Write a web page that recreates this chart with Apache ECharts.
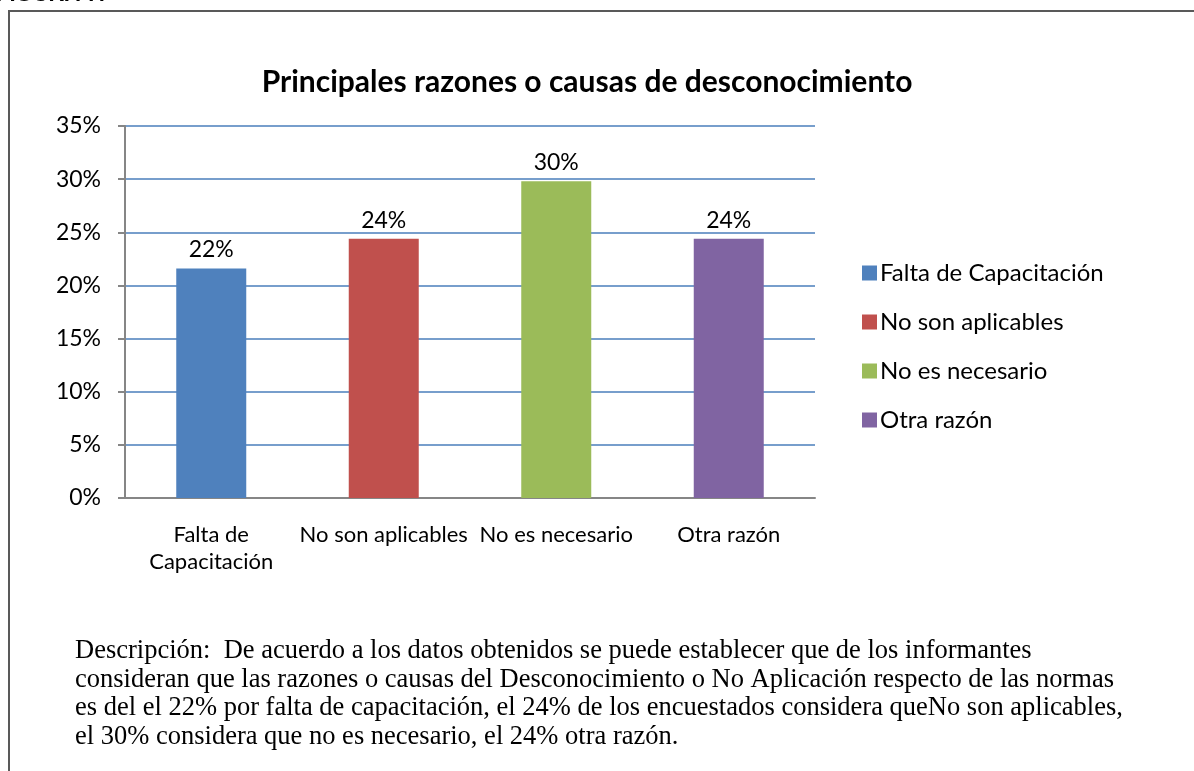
<!DOCTYPE html>
<html>
<head>
<meta charset="utf-8">
<script src="https://cdn.jsdelivr.net/npm/echarts@6/dist/echarts.min.js"></script>
<style>
  html, body { margin: 0; padding: 0; background: #fff; }
  #chart { width: 1194px; height: 771px; }
</style>
</head>
<body>
<div id="chart"></div>
<script>
// datos del gráfico
const categories = ["Falta de Capacitación", "No son aplicables", "No es necesario", "Otra razón"];
const axisNames = ["Falta de\nCapacitación", "No son aplicables", "No es necesario", "Otra razón"];
const values = [0.216, 0.244, 0.298, 0.244];
const colors = ["#4f81bd", "#c0504d", "#9bbb59", "#8064a2"];
const yTicks = { min: 0, max: 0.35, interval: 0.05 };

const titleText = "Principales razones o causas de desconocimiento";
const descLines = [
  "Descripción:  De acuerdo a los datos obtenidos se puede establecer que de los informantes",
  "consideran que las razones o causas del Desconocimiento o No Aplicación respecto de las normas",
  "es del el 22% por falta de capacitación, el 24% de los encuestados considera queNo son aplicables,",
  "el 30% considera que no es necesario, el 24% otra razón.",
];

const FONT = "Lato, 'Open Sans', sans-serif";
const pct = (v) => Math.round(v * 100) + "%";

let chartEL = document.getElementById("chart");
let myChart = echarts.init(chartEL, null, { renderer: "canvas" });

// una serie por categoría, superpuestas en la misma posición
let series = categories.map((name, i) => ({
  name: name,
  type: "bar",
  barWidth: 70,
  barGap: "-100%",
  itemStyle: { color: colors[i] },
  label: {
    show: true,
    position: "top",
    distance: 7,
    fontFamily: FONT,
    fontSize: 23,
    color: "#000",
    formatter: (p) => pct(p.value),
  },
  data: values.map((v, j) => (j === i ? v : "-")),
}));

let option = {
  animation: false,
  backgroundColor: "#fff",
  title: {
    text: titleText,
    left: 582,
    top: 62,
    textAlign: "center",
    textStyle: { fontFamily: FONT, fontWeight: "bold", fontSize: 30, color: "#000" },
  },
  legend: {
    orient: "vertical",
    left: 862,
    top: 261,
    padding: 0,
    icon: "rect",
    itemWidth: 15,
    itemHeight: 15,
    itemGap: 25,
    data: categories,
    textStyle: { fontFamily: FONT, fontSize: 24, color: "#000", padding: [0, 0, 0, -2] },
  },
  grid: { left: 125, right: 379, top: 126, bottom: 273, containLabel: false },
  xAxis: {
    type: "category",
    data: axisNames,
    axisLine: { lineStyle: { color: "#868686", width: 2 } },
    axisTick: { show: false },
    axisLabel: {
      interval: 0,
      margin: 23,
      fontFamily: FONT,
      fontSize: 22,
      lineHeight: 27,
      color: "#000",
    },
  },
  yAxis: {
    type: "value",
    min: yTicks.min,
    max: yTicks.max,
    interval: yTicks.interval,
    axisLine: { show: true, lineStyle: { color: "#868686", width: 2 } },
    axisTick: { show: true, length: 7, lineStyle: { color: "#868686", width: 2 } },
    axisLabel: {
      margin: 24,
      fontFamily: FONT,
      fontSize: 23,
      color: "#000",
      formatter: (v) => pct(v),
    },
    splitLine: { lineStyle: { color: "#4a7ebb", width: 1.5 } },
  },
  graphic: [
    // marco de la figura
    { type: "line", shape: { x1: 9, y1: 11, x2: 1194, y2: 11 }, style: { stroke: "#595959", lineWidth: 2 } },
    { type: "line", shape: { x1: 9, y1: 10, x2: 9, y2: 771 }, style: { stroke: "#595959", lineWidth: 2 } },
    // texto de la página cortado arriba
    {
      type: "text",
      left: -4,
      top: -16,
      style: { text: "FIGURA 7.", fontFamily: "'Liberation Sans', Arial, sans-serif", fontWeight: "bold", fontSize: 22, fill: "#000" },
    },
    // descripción
    {
      type: "text",
      left: 75,
      top: 637,
      style: {
        text: descLines.join("\n"),
        fontFamily: "'Liberation Serif', 'Times New Roman', serif",
        fontSize: 26.5,
        lineHeight: 28.5,
        fill: "#000",
      },
    },
  ],
  series: series,
};

option && myChart.setOption(option);
</script>
</body>
</html>
